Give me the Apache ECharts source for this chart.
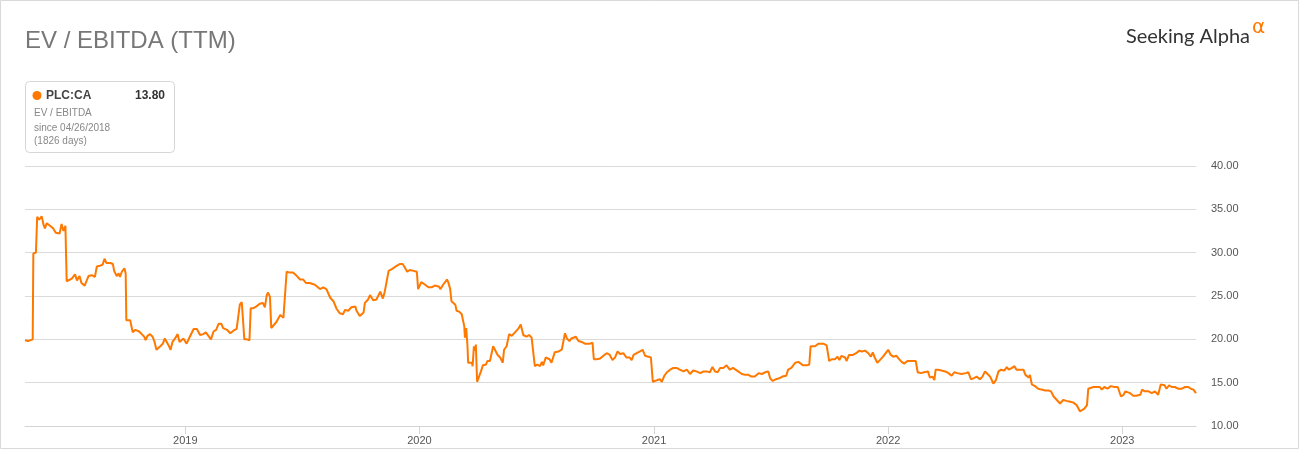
<!DOCTYPE html>
<html>
<head>
<meta charset="utf-8">
<script src="https://cdn.jsdelivr.net/npm/echarts@6/dist/echarts.min.js"></script>
<style>
html,body{margin:0;padding:0;background:#fff;}
#chart{width:1300px;height:450px;}
</style>
</head>
<body>
<div id="chart"></div>
<script>
// ---- data ----
const startDate = '2018-04-26';
const totalDays = 1826;
const yearTicks = ['2019-01-01', '2020-01-01', '2021-01-01', '2022-01-01', '2023-01-01'];
const yTicks = [10, 15, 20, 25, 30, 35, 40];
// days since start date
const dayOffsets = [
0,5,12,13,17,19,22,26,29,31,34,39,44,48,54,57,60,63,65,68,73,78,81,85,88,93,99,104,109,112,117,121,124,127,133,137,139,143,146,148,151,155,157,158,161,164,168,172,175,178,182,186,188,191,195,199,202,205,208,211,215,218,221,224,227,230,234,238,241,243,247,252,257,263,268,273,278,282,286,290,294,298,302,306,309,315,320,325,330,333,335,338,340,342,346,350,352,356,361,366,371,374,377,379,382,384,387,392,398,403,405,408,413,418,424,429,434,438,444,447,452,
455,460,465,470,476,481,486,491,496,499,504,509,515,517,522,528,530,535,538,543,548,554,558,561,564,567,572,575,580,585,589,593,596,600,606,611,613,618,624,629,634,639,645,648,652,658,660,663,665,671,673,677,681,684,685,686,688,690,691,694,697,698,700,702,703,705,708,711,714,719,721,725,728,730,733,737,741,745,747,751,755,759,764,769,773,777,782,786,790,793,795,799,803,806,808,812,818,821,826,832,837,842,845,849,852,859,863,868,873,881,885,887,891,897,902,904,
907,912,916,920,924,928,933,938,943,946,949,954,959,963,967,972,976,979,982,986,990,993,997,1001,1006,1011,1016,1021,1027,1032,1037,1042,1047,1053,1058,1063,1068,1072,1076,1080,1084,1089,1094,1099,1104,1107,1112,1118,1123,1128,1133,1138,1144,1149,1154,1159,1162,1166,1171,1176,1181,1187,1190,1195,1198,1201,1206,1208,1213,1219,1223,1225,1228,1232,1237,1240,1245,1250,1252,1254,1258,1263,1267,1270,1273,1279,1281,1285,1291,1296,1301,1305,1310,1315,1319,1322,1325,1329,1333,1338,1343,1346,1350,1354,1359,
1362,1367,1371,1376,1382,1385,1389,1392,1397,1402,1408,1411,1415,1418,1420,1424,1429,1435,1440,1445,1449,1454,1460,1463,1467,1471,1475,1479,1484,1489,1493,1497,1501,1505,1510,1514,1518,1522,1527,1531,1534,1539,1543,1546,1552,1557,1560,1565,1567,1570,1575,1580,1585,1591,1596,1600,1604,1609,1614,1619,1624,1630,1635,1640,1643,1645,1648,1652,1656,1658,1661,1666,1671,1676,1679,1683,1688,1693,1699,1704,1707,1709,1713,1716,1719,1723,1728,1733,1739,1742,1746,1752,1757,1762,1767,1770,1771,1777,1780,1784,1788,1793,1798,1804,1809,1814,1818,1822,1826
];
const evEbitda = [
19.9,19.8,20.0,29.9,30.0,34.15,33.8,34.2,33.2,32.8,33.4,33.1,32.8,32.3,32.2,33.3,32.5,33.1,26.7,26.5,27.0,27.5,26.8,27.3,26.5,26.2,27.3,27.4,27.2,28.4,28.5,28.6,29.3,28.8,28.8,28.7,27.9,27.3,27.6,27.2,27.8,28.2,27.6,22.2,22.0,22.2,20.8,21.1,21.2,20.9,20.6,20.3,19.9,20.4,20.6,20.3,19.7,18.8,18.6,19.2,19.5,20.1,20.0,19.3,18.8,19.7,20.1,20.6,19.7,19.6,20.1,19.5,20.3,21.2,21.2,20.5,20.6,20.8,20.4,20.0,20.9,21.1,21.8,21.8,21.3,21.1,20.7,21.0,21.2,21.3,24.0,24.3,22.2,20.0,20.0,19.9,23.6,23.6,23.8,24.1,24.2,23.7,25.1,25.4,24.9,21.3,21.5,22.0,22.8,22.5,22.3,27.8,27.7,27.7,27.3,26.9,26.9,26.5,26.5,26.7,26.3,
26.5,25.8,26.0,25.8,24.8,24.4,23.5,23.0,22.9,23.4,23.3,23.7,23.8,23.3,22.7,23.1,24.2,24.6,25.1,24.5,24.6,25.5,24.7,25.5,25.6,27.9,28.1,28.3,28.5,28.7,28.7,28.2,27.8,28.0,27.9,27.8,25.8,26.6,26.3,26.0,26.0,26.2,26.1,25.8,26.3,26.9,26.6,25.8,24.4,24.0,23.3,23.2,22.9,23.0,21.5,20.2,21.3,19.2,17.3,17.1,17.3,16.9,19.2,18.7,19.4,15.1,15.2,16.3,17.0,17.1,17.5,17.5,18.5,19.2,19.4,18.2,17.9,17.3,18.8,19.2,20.6,20.4,20.8,21.2,21.7,20.5,20.3,20.5,20.2,20.3,16.9,17.1,16.9,17.4,17.0,17.9,17.7,17.3,18.5,18.6,18.8,20.7,20.1,19.8,20.1,20.3,19.8,19.7,19.5,19.5,19.6,17.7,17.7,17.8,18.1,18.3,
18.4,18.2,17.6,17.9,18.6,18.3,18.4,17.9,17.9,17.6,18.2,18.4,18.6,18.8,18.1,18.0,17.9,15.1,15.0,15.3,15.4,15.1,15.8,16.2,16.5,16.7,16.7,16.5,16.3,16.5,16.0,16.4,16.3,16.1,16.3,16.3,16.2,16.8,16.3,16.2,16.7,16.7,17.0,16.5,16.7,16.9,16.3,16.0,15.9,15.9,15.7,15.7,16.1,16.0,16.2,16.3,15.5,15.2,15.4,15.5,15.7,15.8,16.5,16.7,16.8,17.3,17.4,17.2,17.0,17.0,17.1,19.2,19.0,19.2,19.5,19.7,19.5,19.3,18.4,17.5,17.7,17.7,18.0,17.6,18.1,17.9,17.5,18.2,18.2,18.4,18.7,18.6,18.7,18.4,18.0,18.5,17.9,17.3,17.6,18.0,18.5,18.8,18.2,18.0,18.1,
17.8,17.4,17.2,17.5,17.5,17.7,17.5,16.2,16.1,16.2,16.3,15.6,15.7,15.3,16.5,16.5,16.4,16.3,16.1,15.8,16.2,16.1,16.0,15.9,16.1,16.2,15.4,15.5,15.7,15.4,15.7,16.3,16.0,15.7,14.9,15.3,16.3,16.5,16.4,16.8,16.5,16.7,16.9,16.5,16.5,16.5,15.9,15.6,15.9,14.8,14.6,14.3,14.2,14.1,14.1,14.0,13.4,13.0,12.6,13.0,12.9,12.8,12.7,12.4,12.5,11.7,11.8,12.0,12.4,14.3,14.5,14.5,14.5,14.5,14.2,14.5,14.3,14.6,14.5,14.5,14.5,13.4,13.6,14.0,14.2,13.8,13.5,13.5,13.6,14.2,14.0,14.0,13.8,14.0,13.6,13.5,14.8,14.7,14.3,14.7,14.5,14.5,14.3,14.3,14.5,14.5,14.3,14.2,13.8
];
const tickerName = 'PLC:CA';
const lastValueText = '13.80';
const metricName = 'EV / EBITDA';
const sinceText = 'since 04/26/2018';
const daysText = '(1826 days)';

// ---- build ----
const DAY = 86400000;
function parseLocal(s){ const p = s.split('-').map(Number); return new Date(p[0], p[1]-1, p[2]).getTime(); }
const t0 = parseLocal(startDate);
const seriesData = dayOffsets.map((d, i) => [t0 + d * DAY, evEbitda[i]]);
const yearTickTimes = yearTicks.map(parseLocal);

const chart = echarts.init(document.getElementById('chart'), null, {renderer: 'canvas'});
const font = '"Liberation Sans", Arial, Helvetica, sans-serif';
chart.setOption({
  animation: false,
  backgroundColor: '#fff',
  textStyle: {fontFamily: font},
  title: {
    text: 'EV / EBITDA (TTM)',
    left: 25, top: 29, padding: 0,
    textStyle: {fontSize: 24, fontWeight: 'normal', color: '#777', fontFamily: font}
  },
  grid: {left: 25, right: 104, top: 166, bottom: 24},
  xAxis: {
    type: 'value',
    min: t0,
    max: t0 + totalDays * DAY,
    axisLine: {show: true, lineStyle: {color: '#d4d4d4', width: 1}},
    axisTick: {show: true, length: 8, lineStyle: {color: '#d4d4d4'}, customValues: yearTickTimes},
    axisLabel: {
      customValues: yearTickTimes,
      formatter: function (v) { return String(new Date(v).getFullYear()); },
      color: '#555', fontSize: 11, margin: 9, fontFamily: font
    },
    splitLine: {show: false}
  },
  yAxis: {
    type: 'value',
    position: 'right',
    min: yTicks[0], max: yTicks[yTicks.length - 1], interval: 5,
    axisLine: {show: false},
    axisTick: {show: false},
    axisLabel: {formatter: v => v.toFixed(2), color: '#555', fontSize: 11, margin: 15, fontFamily: font},
    splitLine: {lineStyle: {color: '#dadada', width: 1}}
  },
  series: [{
    type: 'line',
    data: seriesData,
    showSymbol: false,
    symbol: 'none',
    lineStyle: {color: '#ff7800', width: 2},
    itemStyle: {color: '#ff7800'}
  }],
  graphic: [
    {type: 'rect', shape: {x: 0.5, y: 0.5, width: 1298, height: 448}, style: {fill: 'none', stroke: '#d9d9d9', lineWidth: 1}, silent: true},
    {type: 'rect', shape: {x: 25.5, y: 81.5, width: 149, height: 71, r: 4}, style: {fill: '#fff', stroke: '#d6d6d6', lineWidth: 1}},
    {type: 'circle', shape: {cx: 37, cy: 95.5, r: 4.5}, style: {fill: '#ff7800'}},
    {type: 'text', x: 46, y: 95.5, style: {text: tickerName, font: 'bold 12px ' + font, fill: '#444', verticalAlign: 'middle'}},
    {type: 'text', x: 165, y: 95.5, style: {text: lastValueText, font: 'bold 12px ' + font, fill: '#333', align: 'right', verticalAlign: 'middle'}},
    {type: 'text', x: 34, y: 113, style: {text: metricName, font: '10px ' + font, fill: '#888', verticalAlign: 'middle'}},
    {type: 'text', x: 34, y: 128.5, style: {text: sinceText, font: '10px ' + font, fill: '#888', verticalAlign: 'middle'}},
    {type: 'text', x: 34, y: 141.5, style: {text: daysText, font: '10px ' + font, fill: '#888', verticalAlign: 'middle'}},
    {type: 'text', x: 1250, y: 37, style: {text: 'Seeking Alpha', font: '20px Lato, "Open Sans", sans-serif', fill: '#333', align: 'right', verticalAlign: 'middle'}},
    {type: 'text', x: 1252, y: 28, style: {text: 'α', font: '20px "DejaVu Sans", sans-serif', fill: '#ff7800', verticalAlign: 'middle'}}
  ]
});
</script>
</body>
</html>
